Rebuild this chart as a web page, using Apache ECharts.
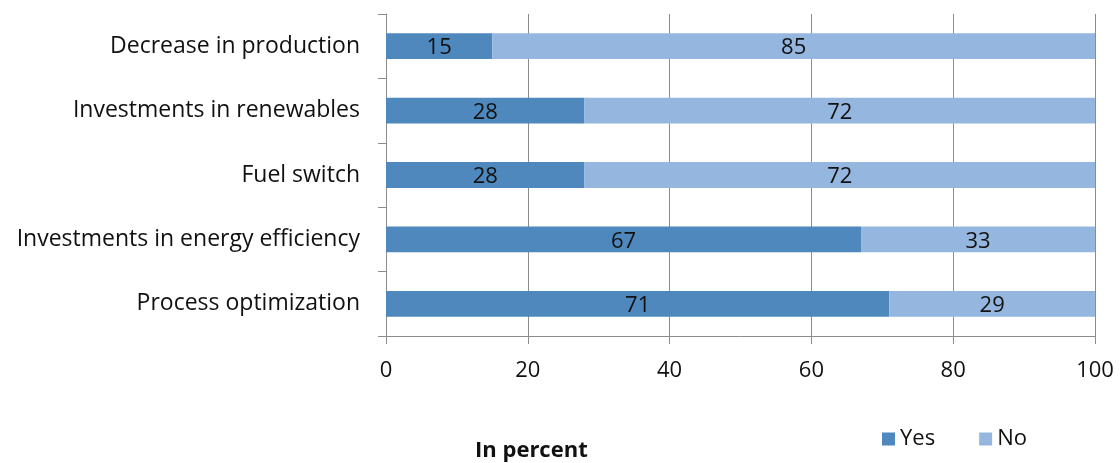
<!DOCTYPE html>
<html>
<head>
<meta charset="utf-8">
<script src="https://cdn.jsdelivr.net/npm/echarts@6/dist/echarts.min.js"></script>
<style>
  html, body { margin: 0; padding: 0; background: #fff; }
  #chart { width: 1120px; height: 463px; }
</style>
</head>
<body>
<div id="chart"></div>
<script>
var categories = ["Process optimization", "Investments in energy efficiency", "Fuel switch", "Investments in renewables", "Decrease in production"];
var yesValues = [71, 67, 28, 28, 15];
var noValues = [29, 33, 72, 72, 85];
var xTicks = [0, 20, 40, 60, 80, 100];

var dom = document.getElementById("chart");
var chart = echarts.init(dom);

// value labels sit slightly low in the original
var labelStyle = {
  show: true,
  position: 'inside',
  offset: [0, 2],
  color: '#111',
  fontFamily: 'Open Sans',
  fontSize: 22
};

var option = {
  animation: false,
  textStyle: {fontFamily: 'Open Sans'},
  grid: {left: 386, right: 25, top: 14, bottom: 127},
  legend: {
    data: ['Yes', 'No'],
    left: 877,
    top: 423,
    itemWidth: 13,
    itemHeight: 13,
    itemGap: 44,
    icon: 'rect',
    textStyle: {color: '#111', fontSize: 22, fontFamily: 'Open Sans'}
  },
  title: {
    text: 'In percent',
    left: 470,
    top: 435,
    textStyle: {color: '#111', fontSize: 22, fontWeight: 'bold', fontFamily: 'Open Sans'}
  },
  xAxis: {
    type: 'value',
    min: 0,
    max: 100,
    interval: 20,
    axisLine: {show: true, lineStyle: {color: '#8c8c8c'}},
    axisTick: {show: true, length: 8, lineStyle: {color: '#8c8c8c'}},
    splitLine: {show: true, lineStyle: {color: '#8c8c8c'}},
    axisLabel: {
      color: '#111', fontSize: 22, margin: 24,
      formatter: function (v) { return xTicks.indexOf(v) >= 0 ? String(v) : ''; }
    }
  },
  yAxis: {
    type: 'category',
    data: categories,
    axisLine: {show: true, lineStyle: {color: '#8c8c8c'}},
    axisTick: {show: true, length: 8, lineStyle: {color: '#8c8c8c'}},
    axisLabel: {color: '#111', fontSize: 23, margin: 26, padding: [3, 0, 0, 0]}
  },
  series: [
    {
      name: 'Yes',
      type: 'bar',
      stack: 'total',
      barWidth: '40%',
      data: yesValues,
      itemStyle: {color: 'rgb(79,136,189)'},
      label: labelStyle
    },
    {
      name: 'No',
      type: 'bar',
      stack: 'total',
      barWidth: '40%',
      data: noValues,
      itemStyle: {color: 'rgb(149,182,223)'},
      label: labelStyle
    }
  ]
};
chart.setOption(option);
</script>
</body>
</html>
